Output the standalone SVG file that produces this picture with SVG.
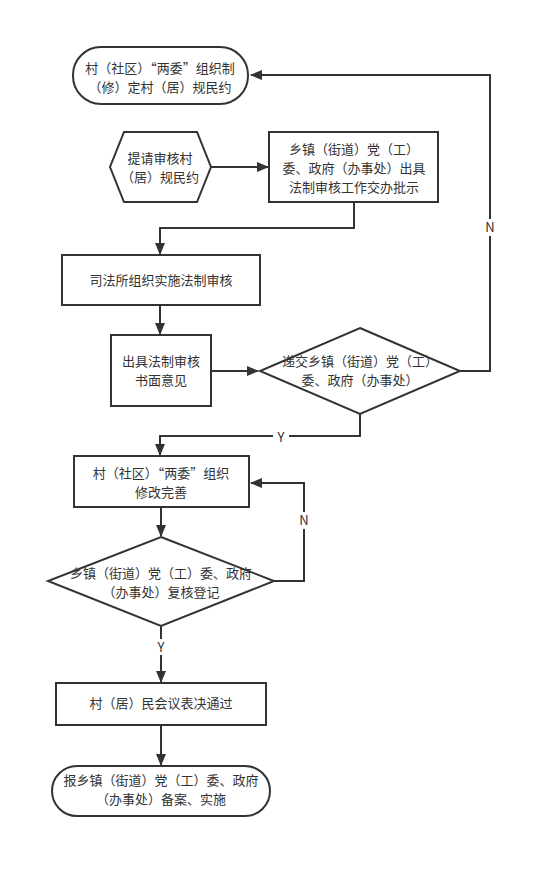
<svg xmlns="http://www.w3.org/2000/svg" width="551" height="878" viewBox="0 0 551 878">
<style>
.n{fill:#fff;stroke:#333;stroke-width:2}
.c{fill:none;stroke:#333;stroke-width:2}
text{font-family:"Noto Sans CJK SC","Liberation Sans",sans-serif;font-size:13px;fill:#333;text-anchor:middle}
</style>
<defs>
<marker id="a" markerWidth="12" markerHeight="10" refX="11" refY="5" orient="auto" markerUnits="userSpaceOnUse">
<path d="M0,0 L12,5 L0,10 Z" fill="#333"/>
</marker>
</defs>
<rect width="551" height="878" fill="#fff"/>
<g id="connectors">
<polyline class="c" points="460,371 490,371 490,75 251,75" marker-end="url(#a)"/>
<line class="c" x1="211" y1="167" x2="268" y2="167" marker-end="url(#a)"/>
<polyline class="c" points="354,202 354,228 160,228 160,254" marker-end="url(#a)"/>
<line class="c" x1="160" y1="305" x2="160" y2="334" marker-end="url(#a)"/>
<line class="c" x1="211" y1="371" x2="258" y2="371" marker-end="url(#a)"/>
<polyline class="c" points="360,414 360,436 160,436 160,455" marker-end="url(#a)"/>
<line class="c" x1="161" y1="507" x2="161" y2="536" marker-end="url(#a)"/>
<polyline class="c" points="274,581 304,581 304,483 251,483" marker-end="url(#a)"/>
<line class="c" x1="161" y1="626" x2="161" y2="682" marker-end="url(#a)"/>
<line class="c" x1="161" y1="725" x2="161" y2="765" marker-end="url(#a)"/>
<rect x="482" y="219" width="16" height="17" fill="#fff"/>
<text x="490" y="232">N</text>
<rect x="273" y="429" width="16" height="16" fill="#fff"/>
<text x="281" y="442">Y</text>
<rect x="296" y="512" width="16" height="17" fill="#fff"/>
<text x="304" y="525">N</text>
<rect x="153" y="639" width="16" height="16" fill="#fff"/>
<text x="161" y="652">Y</text>
</g>
<g id="n1">
<rect class="n" x="73" y="47" width="175" height="57" rx="28" ry="28"/>
<text x="160" y="73">村（社区）“两委”组织制</text>
<text x="160" y="92">（修）定村（居）规民约</text>
</g>
<g id="n2">
<polygon class="n" points="124,132 197,132 211,167 197,202 124,202 110,167"/>
<text x="160" y="163">提请审核村</text>
<text x="160" y="182">（居）规民约</text>
</g>
<g id="n3">
<rect class="n" x="269" y="132" width="169" height="70"/>
<text x="354" y="154">乡镇（街道）党（工）</text>
<text x="354" y="173">委、政府（办事处）出具</text>
<text x="354" y="192">法制审核工作交办批示</text>
</g>
<g id="n4">
<rect class="n" x="62" y="255" width="198" height="50"/>
<text x="161" y="285">司法所组织实施法制审核</text>
</g>
<g id="n5">
<rect class="n" x="111" y="335" width="100" height="71"/>
<text x="161" y="366">出具法制审核</text>
<text x="161" y="385">书面意见</text>
</g>
<g id="n6">
<polygon class="n" points="360,328 460,371 360,414 260,371"/>
<text x="360" y="366">递交乡镇（街道）党（工）</text>
<text x="360" y="385">委、政府（办事处）</text>
</g>
<g id="n7">
<rect class="n" x="74" y="456" width="175" height="51"/>
<text x="161" y="478">村（社区）“两委”组织</text>
<text x="161" y="497">修改完善</text>
</g>
<g id="n8">
<polygon class="n" points="161,537 274,581 161,626 48,581"/>
<text x="161" y="578">乡镇（街道）党（工）委、政府</text>
<text x="161" y="597">（办事处）复核登记</text>
</g>
<g id="n9">
<rect class="n" x="56" y="683" width="210" height="42"/>
<text x="161" y="708">村（居）民会议表决通过</text>
</g>
<g id="n10">
<rect class="n" x="52" y="766" width="218" height="50" rx="25" ry="25"/>
<text x="161" y="785">报乡镇（街道）党（工）委、政府</text>
<text x="161" y="804">（办事处）备案、实施</text>
</g>
</svg>
